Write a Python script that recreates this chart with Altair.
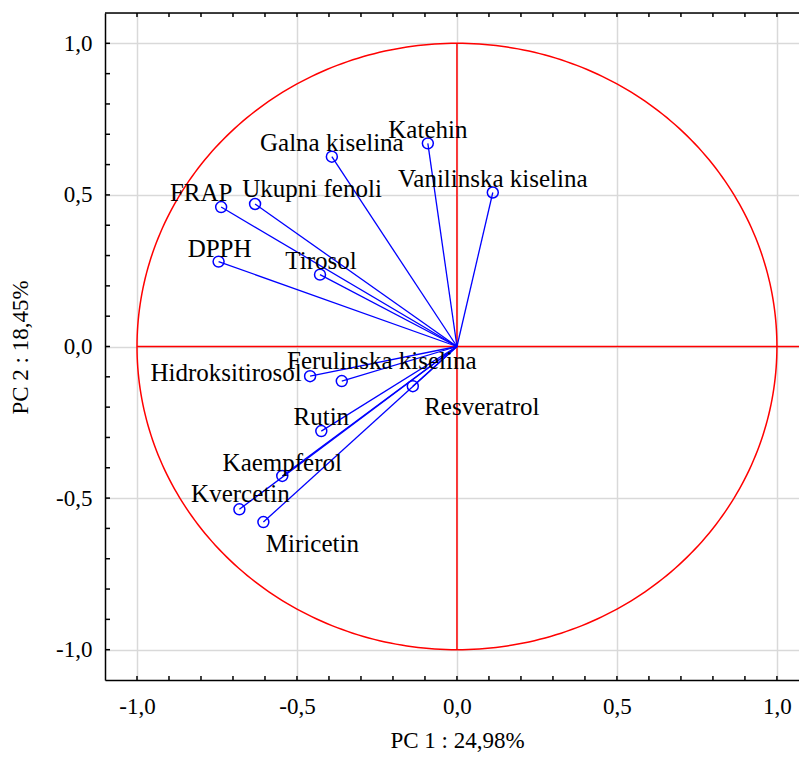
import altair as alt
import pandas as pd

# ---- data ----
names = ["Katehin", "Galna kiselina", "Vanilinska kiselina", "FRAP", "Ukupni fenoli",
         "DPPH", "Tirosol", "Hidroksitirosol", "Ferulinska kiselina", "Resveratrol",
         "Rutin", "Kaempferol", "Kvercetin", "Miricetin"]
pc1 = [-0.091, -0.391, 0.112, -0.737, -0.631, -0.745, -0.428, -0.459, -0.360, -0.138,
       -0.424, -0.546, -0.680, -0.605]
pc2 = [0.670, 0.626, 0.508, 0.460, 0.470, 0.280, 0.237, -0.098, -0.114, -0.131,
       -0.279, -0.427, -0.537, -0.579]
# label offsets (pixels) relative to each point
label_dx = [0, 0, 0, -20, 57, 1, 1, -84, 40, 69, 0, 0, 1, 49]
label_dy = [-13, -14, -13, -14, -15, -13, -14, -3, -20, 21, -14, -13, -15, 22]

tick_values = [-1.0, -0.5, 0.0, 0.5, 1.0]
x_title = "PC 1 : 24,98%"
y_title = "PC 2 : 18,45%"

W, H = 694, 667
FONT = "Liberation Serif"
BLUE = "#0000ff"
RED = "#ff0000"
GRID = "#d9d9d9"

df = pd.DataFrame({"name": names, "x": pc1, "y": pc2})

xscale = alt.Scale(domain=[-1.1, 1.069], nice=False, zero=False)
yscale = alt.Scale(domain=[-1.1, 1.1], nice=False, zero=False)
lab = "replace(replace(format(datum.value, '.1f'), '.', ','), '\u2212', '-')"

x_axis = alt.Axis(values=tick_values, labelExpr=lab, title=x_title, grid=True,
                  gridColor=GRID, gridWidth=1.5, domainColor="black", domainWidth=1.5,
                  ticks=False, labelPadding=15, labelFont=FONT, labelFontSize=23,
                  labelColor="black", titleFont=FONT, titleFontSize=23,
                  titleFontWeight="normal", titleColor="black", titleX=352, titleY=60,
                  titleBaseline="middle", titleAlign="center", labelFlush=False)
y_axis = alt.Axis(values=tick_values, labelExpr=lab, title=y_title, grid=True,
                  gridColor=GRID, gridWidth=1.5, domainColor="black", domainWidth=1.5,
                  ticks=False, labelPadding=13, labelFont=FONT, labelFontSize=23,
                  labelColor="black", titleFont=FONT, titleFontSize=23,
                  titleFontWeight="normal", titleColor="black", titleX=-85, titleY=334,
                  titleAngle=270, titleBaseline="middle", titleAlign="center",
                  labelFlush=False)


def X(f):
    return alt.X(f, type="quantitative", scale=xscale, axis=x_axis)


def Y(f):
    return alt.Y(f, type="quantitative", scale=yscale, axis=y_axis)


# unit circle
circle = alt.Chart(alt.sequence(0, 361, 1, as_="deg")).transform_calculate(
    cx="cos(datum.deg * PI / 180)", cy="sin(datum.deg * PI / 180)"
).mark_line(color=RED, strokeWidth=1.5).encode(
    x=X("cx"), y=Y("cy"), order=alt.Order("deg:Q"))

# red axes cross
hline = alt.Chart(pd.DataFrame({"a": [-1.0], "b": [1.069], "c": [0.0]})).mark_rule(
    color=RED, strokeWidth=1.5).encode(x=X("a"), x2="b", y=Y("c"))
vline = alt.Chart(pd.DataFrame({"a": [-1.0], "b": [1.0], "c": [0.0]})).mark_rule(
    color=RED, strokeWidth=1.5).encode(y=Y("a"), y2="b", x=X("c"))

# top border
top = alt.Chart(pd.DataFrame({"k": [0]})).mark_rule(color="black", strokeWidth=1.5).encode(
    x=alt.value(0), x2=alt.value(W), y=alt.value(0))

# inward minor ticks
ticks_src = alt.sequence(-10, 11, 1, as_="k")
xt_bottom = alt.Chart(ticks_src).transform_calculate(v="datum.k / 10").mark_rule(
    color="black", strokeWidth=1.5).encode(x=X("v"), y=alt.value(H), y2=alt.value(H - 4))
xt_top = alt.Chart(ticks_src).transform_calculate(v="datum.k / 10").mark_rule(
    color="black", strokeWidth=1.5).encode(x=X("v"), y=alt.value(0), y2=alt.value(4))
yt_left = alt.Chart(ticks_src).transform_calculate(v="datum.k / 10").mark_rule(
    color="black", strokeWidth=1.5).encode(y=Y("v"), x=alt.value(0), x2=alt.value(5))

# vectors
vectors = alt.Chart(df).transform_calculate(x0="0", y0="0").mark_rule(
    color=BLUE, strokeWidth=1.3).encode(x=X("x0:Q"), y=Y("y0:Q"), x2="x:Q", y2="y:Q")
points = alt.Chart(df).mark_point(shape="circle", filled=False, color=BLUE, size=120,
                                  strokeWidth=1.5, opacity=1).encode(x=X("x"), y=Y("y"))

labels = []
for n, dx, dy in zip(names, label_dx, label_dy):
    labels.append(
        alt.Chart(df[df["name"] == n]).mark_text(
            font=FONT, fontSize=25, color="black", dx=dx, dy=dy,
            align="center", baseline="middle").encode(x=X("x"), y=Y("y"), text="name:N"))

chart = alt.layer(
    circle, hline, vline, vectors, points, *labels, xt_bottom, xt_top, yt_left, top
).properties(
    width=W, height=H,
    autosize=alt.AutoSizeParams(type="none"),
    padding={"left": 97, "top": 5, "right": 0, "bottom": 73},
).configure_view(stroke=None).configure(background="white")

chart.save("out.html", embed_options={"renderer": "svg", "actions": False})
